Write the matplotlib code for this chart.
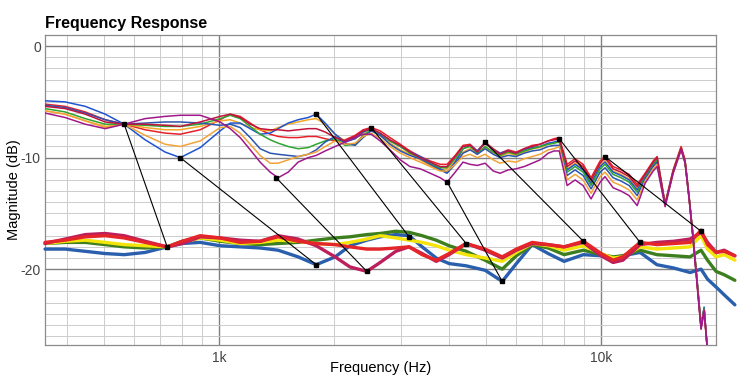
import numpy as np
import matplotlib
matplotlib.use("Agg")
import matplotlib.pyplot as plt
import matplotlib.ticker as mtick

plt.rcParams["font.family"] = ["Liberation Sans", "DejaVu Sans"]
plt.rcParams["axes.unicode_minus"] = False

# -----------------------------
# upper group (thin lines), values in dB
# -----------------------------
freq_upper = [350, 395, 446, 503, 564, 640, 722, 791, 892, 1006,
              1069, 1135, 1206, 1280, 1360, 1427, 1516, 1610, 1710, 1795,
              1895, 2012, 2137, 2270, 2382, 2500, 2640, 2800, 2980, 3160,
              3360, 3570, 3790, 3950, 4150, 4350, 4540, 4740, 4970, 5220,
              5440, 5710, 5990, 6290, 6600, 6920, 7270, 7530, 7770, 8150,
              8550, 8970, 9415, 9940, 10240, 10750, 11280, 11840, 12430, 13040,
              13690, 14020, 14710, 15440, 16200, 16590, 17000, 17410, 17840, 18270,
              18610, 19060]

up_magenta = [-6.0, -6.4, -7.0, -7.4, -7.0, -6.5, -6.3, -6.2, -6.2, -6.8,
              -7.4, -8.2, -9.3, -10.4, -11.3, -11.8, -11.3, -10.4, -10.0, -9.8,
              -9.4, -9.0, -8.6, -8.2, -7.9, -7.9, -8.5, -9.3, -10.2, -10.8,
              -11.0, -11.4, -11.8, -12.2, -11.3, -10.4, -10.6, -10.7, -10.5, -11.2,
              -11.4, -11.1, -11.0, -10.8, -10.5, -10.2, -9.6, -9.4, -9.4, -12.5,
              -12.0, -12.5, -13.7, -12.2, -11.7, -12.7, -13.0, -13.4, -14.3, -12.3,
              -11.2, -10.8, -14.4, -11.4, -9.3, -10.5, -13.7, -17.3, -21.4, -25.4,
              -23.8, -28.0]

up_orange_b = [-5.8, -6.1, -6.7, -7.3, -7.0, -8.0, -8.8, -9.0, -8.5, -7.3,
               -7.2, -7.8, -8.8, -9.8, -10.5, -10.5, -10.2, -9.9, -9.7, -9.5,
               -9.0, -8.5, -8.8, -8.7, -8.1, -7.8, -8.3, -9.0, -9.6, -10.0,
               -10.4, -10.8, -11.2, -11.2, -10.6, -9.9, -9.7, -10.0, -9.7, -10.2,
               -10.5, -10.3, -10.4, -10.1, -9.9, -9.7, -9.3, -9.2, -9.0, -12.0,
               -11.5, -12.0, -13.2, -11.7, -11.3, -12.2, -12.5, -12.9, -13.8, -12.1,
               -11.0, -10.6, -14.3, -11.4, -9.3, -10.4, -13.7, -17.2, -21.3, -25.3,
               -23.7, -28.0]

up_blue_b = [-5.3, -5.5, -6.0, -6.6, -7.0, -6.9, -6.8, -6.8, -6.9, -7.1,
             -7.0, -7.3, -8.2, -9.2, -9.6, -9.7, -9.8, -9.9, -9.7, -9.3,
             -8.6, -8.1, -8.7, -8.9, -8.2, -7.6, -8.0, -8.8, -9.4, -9.8,
             -10.1, -10.6, -11.1, -11.4, -10.6, -9.6, -9.3, -9.7, -9.2, -9.7,
             -10.0, -9.8, -9.9, -9.6, -9.4, -9.3, -9.0, -8.9, -8.9, -11.6,
             -11.1, -11.6, -12.8, -11.3, -10.9, -11.8, -12.1, -12.5, -13.4, -11.9,
             -10.8, -10.4, -14.3, -11.3, -9.2, -10.4, -13.6, -17.2, -21.2, -25.2,
             -23.6, -28.0]

up_green = [-5.6, -5.9, -6.5, -7.0, -7.0, -7.1, -7.2, -7.2, -7.0, -6.5,
            -6.2, -6.5, -7.2, -7.9, -8.4, -8.7, -9.0, -9.2, -9.1, -8.8,
            -8.5, -8.3, -8.9, -8.8, -8.0, -7.5, -7.8, -8.5, -9.0, -9.6,
            -10.0, -10.5, -10.9, -10.9, -10.1, -9.2, -9.0, -9.6, -9.0, -9.5,
            -9.8, -9.5, -9.7, -9.4, -9.2, -9.0, -8.8, -8.7, -8.6, -11.3,
            -10.8, -11.3, -12.5, -11.0, -10.6, -11.5, -11.8, -12.2, -13.1, -11.8,
            -10.7, -10.2, -14.2, -11.2, -9.2, -10.3, -13.5, -17.1, -21.0, -25.1,
            -23.5, -28.0]

up_blue_a = [-4.9, -5.0, -5.4, -6.1, -7.0, -8.4, -9.5, -10.0, -9.1, -7.6,
             -6.9, -6.9, -7.4, -7.9, -7.8, -7.4, -6.9, -6.6, -6.4, -6.1,
             -6.9, -7.9, -8.6, -8.3, -7.7, -7.4, -7.9, -8.5, -9.0, -9.5,
             -9.9, -10.4, -11.0, -11.3, -10.4, -9.2, -8.9, -9.4, -8.7, -9.3,
             -9.6, -9.4, -9.6, -9.3, -9.1, -9.0, -8.7, -8.6, -8.5, -11.1,
             -10.6, -11.1, -12.3, -10.8, -10.4, -11.3, -11.6, -12.0, -12.9, -11.7,
             -10.6, -10.2, -14.2, -11.3, -9.2, -10.4, -13.6, -17.0, -21.1, -25.2,
             -23.4, -28.0]

up_orange_a = [-5.8, -6.1, -6.7, -7.2, -7.0, -7.3, -7.5, -7.5, -7.2, -6.7,
               -6.6, -6.9, -7.3, -7.5, -7.6, -7.3, -7.0, -6.8, -6.6, -6.5,
               -7.0, -7.9, -8.5, -8.3, -7.8, -7.5, -8.0, -8.7, -9.3, -9.7,
               -10.2, -10.7, -11.1, -11.0, -10.3, -9.5, -9.2, -9.7, -9.1, -9.6,
               -9.9, -9.6, -9.8, -9.5, -9.2, -9.1, -8.8, -8.7, -8.5, -11.0,
               -10.5, -11.0, -12.2, -10.7, -10.3, -11.2, -11.5, -11.9, -12.8, -11.6,
               -10.5, -10.1, -14.2, -11.2, -9.1, -10.3, -13.7, -17.1, -21.2, -25.1,
               -23.6, -28.0]

up_crimson = [-5.4, -5.6, -6.1, -6.8, -7.0, -7.0, -7.1, -7.2, -6.8, -6.3,
              -6.1, -6.4, -7.0, -7.4, -7.5, -7.5, -7.6, -7.5, -7.4, -7.4,
              -7.7, -8.2, -8.5, -8.1, -7.6, -7.4, -7.8, -8.4, -8.9, -9.5,
              -10.0, -10.4, -10.8, -10.8, -9.9, -9.0, -8.9, -9.5, -8.7, -9.3,
              -9.7, -9.4, -9.6, -9.2, -9.0, -8.8, -8.5, -8.4, -8.3, -10.8,
              -10.3, -10.8, -12.0, -10.5, -10.0, -11.0, -11.3, -11.7, -12.6, -11.5,
              -10.4, -10.0, -14.2, -11.2, -9.1, -10.3, -13.6, -17.2, -21.3, -25.3,
              -23.7, -28.0]

up_red = [-5.2, -5.4, -5.9, -6.6, -7.0, -7.5, -7.8, -7.9, -7.5, -6.6,
          -6.1, -6.3, -6.9, -7.5, -7.9, -8.1, -8.2, -8.2, -8.1, -8.1,
          -8.3, -8.5, -8.4, -8.0, -7.5, -7.3, -7.6, -8.2, -8.8, -9.4,
          -9.9, -10.3, -10.6, -10.6, -9.8, -8.9, -8.8, -9.4, -8.6, -9.2,
          -9.6, -9.3, -9.5, -9.2, -8.9, -8.8, -8.5, -8.3, -8.2, -10.6,
          -10.1, -10.6, -11.8, -10.3, -9.9, -10.8, -11.1, -11.5, -12.4, -11.4,
          -10.3, -9.9, -14.1, -11.1, -9.0, -10.2, -13.5, -17.0, -21.0, -25.0,
          -23.5, -28.0]

# -----------------------------
# lower group (thick lines), values in dB
# -----------------------------
freq_lower = [350, 395, 446, 503, 564, 640, 731, 800, 892, 1006,
              1135, 1280, 1427, 1610, 1795, 2012, 2200, 2436, 2640, 2900,
              3142, 3400, 3700, 4000, 4433, 4970, 5510, 6000, 6600, 7270,
              8000, 8988, 10000, 10750, 11400, 12650, 14000, 15500, 17100, 18270,
              19000, 20000, 21000, 22400]

lo_blue = [-18.2, -18.2, -18.4, -18.6, -18.7, -18.5, -18.0, -17.7, -17.6, -17.9,
           -18.0, -18.1, -18.3, -18.9, -19.6, -18.9, -17.9, -17.4, -17.1, -16.9,
           -17.0, -18.0, -19.0, -19.5, -19.7, -20.1, -21.1, -19.5, -17.8, -18.6,
           -19.3, -18.7, -18.8, -19.0, -18.8, -18.5, -19.6, -19.9, -20.3, -20.0,
           -20.9, -21.6, -22.3, -23.2]

lo_green = [-17.7, -17.6, -17.6, -17.8, -18.0, -18.1, -18.0, -17.5, -17.2, -17.5,
            -17.7, -17.8, -17.7, -17.6, -17.4, -17.2, -17.1, -16.9, -16.8, -16.6,
            -16.7, -17.0, -17.4, -17.9, -18.4, -19.2, -20.0, -18.8, -17.8, -18.1,
            -18.7, -18.3, -18.7, -18.9, -18.8, -18.3, -18.7, -18.8, -18.9, -18.3,
            -19.2, -20.2, -20.5, -21.0]

lo_yellow = [-17.7, -17.5, -17.4, -17.6, -17.8, -17.9, -18.0, -17.6, -17.2, -17.4,
             -17.7, -17.6, -17.4, -17.5, -17.7, -17.8, -17.6, -17.3, -17.0, -17.2,
             -17.4, -17.6, -17.9, -18.3, -18.7, -19.0, -19.3, -18.5, -17.7, -17.9,
             -18.3, -17.9, -18.6, -19.0, -18.9, -18.0, -18.2, -18.1, -18.0, -17.0,
             -18.2, -18.9, -18.7, -19.2]

lo_crimson = [-17.7, -17.3, -16.9, -16.8, -17.0, -17.5, -18.0, -17.7, -17.1, -17.2,
              -17.4, -17.5, -17.0, -17.3, -17.9, -18.9, -19.8, -20.2, -19.4, -18.4,
              -18.0, -18.6, -19.3, -18.7, -17.7, -18.3, -19.0, -18.3, -17.7, -17.8,
              -18.0, -17.6, -18.8, -19.4, -19.2, -17.8, -17.6, -17.5, -17.3, -16.7,
              -17.6, -18.5, -18.3, -18.8]

lo_red = [-17.6, -17.4, -17.1, -17.0, -17.2, -17.6, -18.0, -17.5, -17.0, -17.2,
          -17.6, -17.5, -17.1, -17.5, -17.7, -17.8, -18.0, -18.2, -18.2, -18.1,
          -18.0, -18.7, -19.2, -18.6, -17.7, -18.2, -18.9, -18.2, -17.6, -17.8,
          -18.0, -17.5, -18.6, -19.2, -18.9, -17.6, -17.8, -17.7, -17.6, -16.5,
          -17.8, -18.5, -18.4, -18.8]

# -----------------------------
# black connector segments: upper point -> lower point
# -----------------------------
link_f_upper = [564, 791, 1410, 1795, 2500, 3955, 4965, 7770, 10240]
link_db_upper = [-7.0, -10.0, -11.8, -6.1, -7.3, -12.2, -8.6, -8.3, -9.9]
link_f_lower = [731, 1795, 2436, 3142, 4433, 5510, 8988, 12650, 18270]
link_db_lower = [-18.0, -19.6, -20.2, -17.1, -17.7, -21.1, -17.5, -17.6, -16.6]

upper_series = [
    (up_red, "#e8202a"),
    (up_orange_a, "#f5a623"),
    (up_blue_a, "#1f55d0"),
    (up_green, "#2fa52f"),
    (up_blue_b, "#2c55b0"),
    (up_orange_b, "#f2a33a"),
    (up_crimson, "#c0143c"),
    (up_magenta, "#a0198c"),
]

lower_series = [
    (lo_blue, "#2a5fae"),
    (lo_green, "#3d7f1e"),
    (lo_yellow, "#f3e40a"),
    (lo_crimson, "#bd1f5c"),
    (lo_red, "#e4252a"),
]

fig = plt.figure(figsize=(7.48, 3.84), dpi=100)
ax = fig.add_axes([0.0602, 0.1016, 0.8971, 0.8073])

ax.set_xscale("log")
ax.set_xlim(350, 20000)
ax.set_ylim(-26.8, 1.0)

for vals, col in lower_series:
    ax.plot(freq_lower, vals, color=col, lw=2.4, clip_on=False, zorder=3,
            solid_capstyle="round", solid_joinstyle="round")

for vals, col in upper_series:
    ax.plot(freq_upper, vals, color=col, lw=1.1, zorder=4,
            solid_joinstyle="round")

for i in range(len(link_f_upper)):
    ax.plot([link_f_upper[i], link_f_lower[i]],
            [link_db_upper[i], link_db_lower[i]],
            color="black", lw=0.8, marker="s", markersize=3.5, zorder=6)

# ticks and grid
ax.xaxis.set_major_locator(mtick.FixedLocator([1000, 10000]))
ax.xaxis.set_major_formatter(mtick.FixedFormatter(["1k", "10k"]))
ax.xaxis.set_minor_locator(mtick.FixedLocator(
    [400, 500, 600, 700, 800, 900, 2000, 3000, 4000, 5000, 6000, 7000, 8000, 9000]))
ax.xaxis.set_minor_formatter(mtick.NullFormatter())
ax.yaxis.set_major_locator(mtick.FixedLocator([-20, -10, 0]))
ax.yaxis.set_minor_locator(mtick.MultipleLocator(1))

ax.tick_params(which="both", length=0)
ax.tick_params(axis="y", labelsize=10, labelcolor="#444444", pad=3)
ax.tick_params(axis="x", labelsize=10, labelcolor="#444444", pad=4)

ax.grid(which="major", color="#808080", lw=1.0, zorder=0)
ax.grid(which="minor", color="#cccccc", lw=0.7, zorder=0)
ax.set_axisbelow(True)
for sp in ax.spines.values():
    sp.set_color("#8c8c8c")
    sp.set_linewidth(0.9)

ax.set_title("Frequency Response", loc="left", fontsize=11.5,
             fontweight="bold", pad=5)
ax.set_xlabel("Frequency (Hz)", fontsize=10.5)
ax.set_ylabel("Magnitude (dB)", fontsize=10.5)
ax.xaxis.set_label_coords(0.5, -0.052)
ax.yaxis.set_label_coords(-0.036, 0.5)

fig.savefig("out.png", dpi=100)
